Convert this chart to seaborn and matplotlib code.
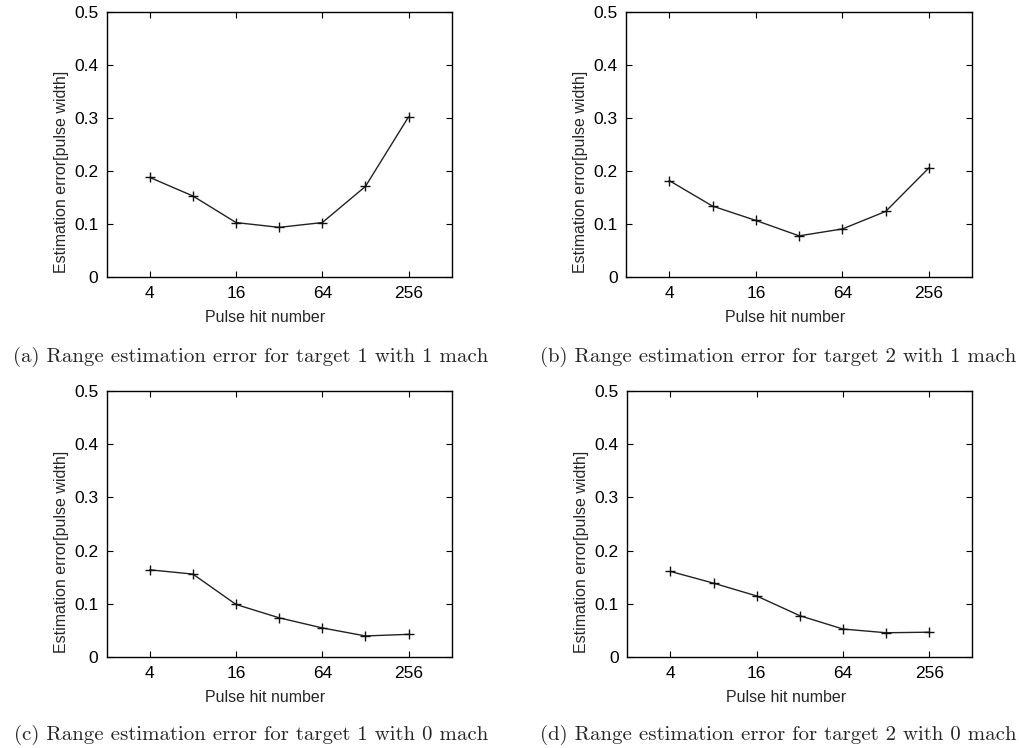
import matplotlib
matplotlib.use('Agg')
import matplotlib.pyplot as plt
import matplotlib.ticker as mticker
import pandas as pd
import seaborn as sns

# pulse hit numbers (log2 spaced) and estimation errors
hits = [4, 8, 16, 32, 64, 128, 256]
err_t1_1mach = [0.188, 0.153, 0.103, 0.094, 0.103, 0.171, 0.302]
err_t2_1mach = [0.182, 0.134, 0.107, 0.078, 0.091, 0.124, 0.206]
err_t1_0mach = [0.164, 0.156, 0.099, 0.074, 0.055, 0.040, 0.043]
err_t2_0mach = [0.161, 0.139, 0.115, 0.078, 0.053, 0.046, 0.047]
captions = ['(a) Range estimation error for target 1 with 1 mach',
            '(b) Range estimation error for target 2 with 1 mach',
            '(c) Range estimation error for target 1 with 0 mach',
            '(d) Range estimation error for target 2 with 0 mach']
x_ticks = [4, 16, 64, 256]
y_ticks = [0, 0.1, 0.2, 0.3, 0.4, 0.5]

sns.set_style('ticks')
plt.rcParams['font.family'] = ['Liberation Sans', 'DejaVu Sans']

fig = plt.figure(figsize=(10.2, 7.48), dpi=100)
# axes positions in figure fraction (left, bottom, width, height)
positions = [[0.1046, 0.6293, 0.3382, 0.3551],
             [0.6137, 0.6293, 0.3395, 0.3551],
             [0.1046, 0.1213, 0.3382, 0.3564],
             [0.6150, 0.1213, 0.3382, 0.3564]]
cap_pos = [(0.246, 0.5164), (0.763, 0.5164), (0.246, 0.0107), (0.763, 0.0107)]
series = [err_t1_1mach, err_t2_1mach, err_t1_0mach, err_t2_0mach]

for pos, vals, cap, cp in zip(positions, series, captions, cap_pos):
    ax = fig.add_axes(pos)
    df = pd.DataFrame({'hits': hits, 'err': vals})
    sns.lineplot(data=df, x='hits', y='err', ax=ax, color='#222222', lw=1.0,
                 marker='+', markersize=7, markeredgewidth=1.0, markeredgecolor='#111111')
    ax.set_xscale('log', base=2)
    ax.set_xlim(2, 512)
    ax.set_ylim(0, 0.5)
    ax.set_xticks(x_ticks)
    ax.xaxis.set_major_formatter(mticker.FuncFormatter(lambda v, p: '%d' % v))
    ax.xaxis.set_minor_locator(mticker.NullLocator())
    ax.set_yticks(y_ticks)
    ax.set_yticklabels(['0', '0.1', '0.2', '0.3', '0.4', '0.5'])
    ax.tick_params(direction='in', top=True, right=True, length=4, width=0.8,
                   labelsize=12.5, pad=6, colors='black')
    for s in ax.spines.values():
        s.set_linewidth(1.0)
        s.set_color('black')
    ax.set_xlabel('Pulse hit number', fontsize=11.5, labelpad=7, x=0.46)
    ax.set_ylabel('Estimation error[pulse width]', fontsize=11.5, labelpad=4, y=0.395)
    fig.text(cp[0], cp[1], cap, ha='center', va='baseline', fontsize=15,
             family=['cmr10', 'DejaVu Serif'])

fig.savefig('out.png', dpi=100, facecolor='white')
